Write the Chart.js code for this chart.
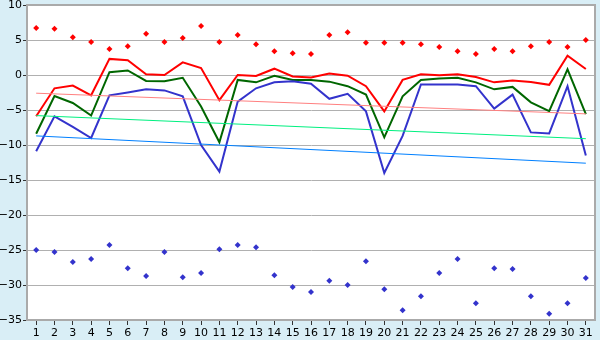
<!DOCTYPE html>
<html lang="en">
<head>
    <meta charset="UTF-8">
    <title>Daily temperatures</title>
    <script src="https://cdn.jsdelivr.net/npm/chart.js"></script>
    <style>
        html, body { margin: 0; padding: 0; background: #d9eef6; }
        canvas { display: block; }
    </style>
</head>
<body>
    <canvas id="chart" width="600" height="340"></canvas>

    <script>
        // days of the month
        const days = Array.from({ length: 31 }, (_, i) => String(i + 1));

        // daily max / mean / min
        const maxTemp  = [-5.9, -1.9, -1.5, -2.9, 2.3, 2.1, 0.1, 0.0, 1.8, 1.0,
                          -3.6, 0.0, -0.15, 0.9, -0.2, -0.35, 0.2, -0.1, -1.6, -5.2,
                          -0.7, 0.1, -0.05, 0.1, -0.3, -1.05, -0.8, -1.0, -1.4, 2.75, 0.85];
        const meanTemp = [-8.4, -3.0, -4.0, -5.8, 0.4, 0.65, -0.85, -0.9, -0.4, -4.5,
                          -9.6, -0.7, -1.05, -0.1, -0.7, -0.7, -0.95, -1.6, -2.8, -8.9,
                          -3.05, -0.7, -0.5, -0.4, -1.05, -2.05, -1.7, -3.9, -5.15, 0.8, -5.6];
        const minTemp  = [-10.9, -5.9, -7.4, -9.0, -2.9, -2.5, -2.05, -2.2, -3.05, -10.0,
                          -13.8, -3.8, -1.9, -1.05, -0.9, -1.25, -3.4, -2.7, -5.2, -14.0,
                          -8.7, -1.35, -1.35, -1.35, -1.6, -4.8, -2.8, -8.2, -8.35, -1.6, -11.5];

        // record highs / lows
        const recordHigh = [6.7, 6.6, 5.4, 4.7, 3.7, 4.1, 5.9, 4.7, 5.3, 7.0,
                            4.7, 5.7, 4.4, 3.4, 3.1, 3.0, 5.7, 6.1, 4.6, 4.6,
                            4.6, 4.4, 4.0, 3.4, 3.0, 3.7, 3.4, 4.1, 4.7, 4.0, 5.0];
        const recordLow  = [-25.0, -25.3, -26.7, -26.3, -24.3, -27.6, -28.7, -25.3, -28.9, -28.3,
                            -24.9, -24.3, -24.6, -28.6, -30.3, -31.0, -29.4, -30.0, -26.6, -30.6,
                            -33.6, -31.6, -28.3, -26.3, -32.6, -27.6, -27.7, -31.6, -34.1, -32.6, -29.0];

        // normal lines: value on day 1 and day 31
        const normalMax  = [-2.6, -5.55];
        const normalMean = [-5.8, -9.1];
        const normalMin  = [-8.7, -12.6];

        const yTicks = [10, 5, 0, -5, -10, -15, -20, -25, -30, -35];

        function endpoints(pair) {
            return days.map((d, i) => i === 0 ? pair[0] : (i === days.length - 1 ? pair[1] : null));
        }

        const plotBg = {
            id: 'plotBg',
            beforeDraw(chart) {
                const { ctx, chartArea: a } = chart;
                ctx.save();
                ctx.fillStyle = '#ffffff';
                ctx.fillRect(a.left, a.top, a.right - a.left, a.bottom - a.top);
                ctx.restore();
            },
            afterDraw(chart) {
                const { ctx, chartArea: a } = chart;
                ctx.save();
                ctx.strokeStyle = '#aaaaaa';
                ctx.lineWidth = 2;
                ctx.beginPath();
                ctx.moveTo(a.left, a.top);
                ctx.lineTo(a.right, a.top);
                ctx.lineTo(a.right, a.bottom);
                ctx.stroke();
                ctx.restore();
            }
        };

        const line = (data, color, width) => ({
            type: 'line', data, borderColor: color, borderWidth: width,
            pointRadius: 0, tension: 0, spanGaps: true, fill: false
        });
        const dots = (data, color) => ({
            type: 'line', data, showLine: false, pointStyle: 'rectRot',
            pointRadius: 3, backgroundColor: color, borderColor: color, borderWidth: 0
        });

        const tickFont = { family: 'DejaVu Sans', size: 11 };

        new Chart(document.getElementById('chart'), {
            data: {
                labels: days,
                datasets: [
                    line(endpoints(normalMax), '#ff8080', 1),
                    line(endpoints(normalMean), '#00f080', 1),
                    line(endpoints(normalMin), '#0080ff', 1),
                    line(minTemp, '#3333cc', 2),
                    line(meanTemp, '#006600', 2),
                    line(maxTemp, '#ff0000', 2),
                    dots(recordHigh, '#ff0000'),
                    dots(recordLow, '#3333cc')
                ]
            },
            options: {
                responsive: false,
                animation: false,
                layout: { padding: { top: 5, right: 5, left: 0, bottom: 0 } },
                plugins: { legend: { display: false }, tooltip: { enabled: false } },
                scales: {
                    x: {
                        offset: true,
                        grid: { display: true, drawOnChartArea: false, offset: false, tickLength: 5, tickColor: '#333333' },
                        border: { color: '#aaaaaa', width: 2 },
                        ticks: { color: '#000000', font: tickFont, padding: 2, maxRotation: 0, autoSkip: false },
                        afterFit(scale) {
                            scale.height = 20;
                            scale.paddingLeft = 0;
                            scale.paddingRight = 0;
                        }
                    },
                    y: {
                        min: -35, max: 10,
                        afterBuildTicks(scale) { scale.ticks = yTicks.map(v => ({ value: v })); },
                        grid: { color: '#b0b0b0', tickLength: 4, tickColor: '#333333' },
                        border: { color: '#aaaaaa', width: 2 },
                        ticks: {
                            color: '#000000', font: tickFont, padding: 1,
                            callback: v => String(v).replace('-', '\u2212')
                        },
                        afterFit(scale) {
                            scale.width = 27;
                            scale.paddingTop = 0;
                            scale.paddingBottom = 0;
                        }
                    }
                }
            },
            plugins: [plotBg]
        });
    </script>
</body>
</html>
